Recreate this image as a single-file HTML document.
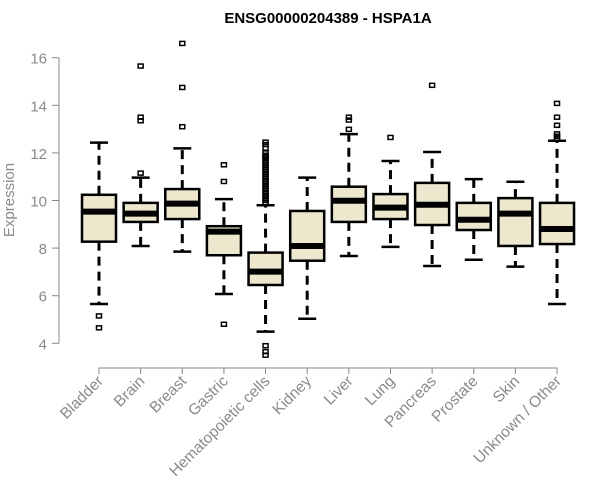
<!DOCTYPE html>
<html><head><meta charset="utf-8"><style>
body{margin:0;background:#fff}
svg{display:block;font-family:"Liberation Sans",Arial,sans-serif}
</style></head><body>
<svg id="chart" width="600" height="500">
<text x="328" y="23" text-anchor="middle" font-weight="bold" font-size="15">ENSG00000204389 - HSPA1A</text>
<text transform="translate(14,200) rotate(-90)" text-anchor="middle" font-size="15" fill="#8a8a8a">Expression</text>
<g id="yaxis"></g>
<g id="xaxis"></g>
<g id="boxes"></g>
</svg>
<script>
const categories=["Bladder","Brain","Breast","Gastric","Hematopoietic cells","Kidney","Liver","Lung","Pancreas","Prostate","Skin","Unknown / Other"];
const whiskerLow=[5.65,8.09,7.85,6.07,4.49,5.03,7.67,8.05,7.25,7.51,7.22,5.65];
const q1=[8.27,9.1,9.22,7.7,6.45,7.47,9.1,9.22,8.97,8.76,8.09,8.17];
const medians=[9.53,9.45,9.87,8.69,7.01,8.09,9.99,9.7,9.82,9.19,9.45,8.8];
const q3=[10.24,9.9,10.48,8.92,7.81,9.56,10.58,10.27,10.74,9.9,10.1,9.9];
const whiskerHigh=[12.43,10.96,12.19,10.06,9.8,10.96,12.79,11.66,12.04,10.9,10.79,12.51];
const outliers=[[5.15,4.65],[15.65,13.5,13.35,11.15],[16.6,14.75,13.1],[11.5,10.8,4.8],
[12.45,12.35,12.2,12.0,11.9,11.85,11.8,11.7,11.6,11.5,11.4,11.3,11.2,11.1,11.0,10.9,10.8,10.7,10.6,10.5,10.4,10.3,10.2,10.1,10.0,9.9,3.9,3.65,3.5],
[],[13.5,13.38,12.99],[12.65],[14.84],[],[],[14.08,13.5,13.16,12.8,12.7,12.6]];
const yTicks=[4,6,8,10,12,14,16];
const NS="http://www.w3.org/2000/svg";
const y=v=>343.3-(v-4)*23.8;
const x=i=>99+i*41.64;
const hw=17;
function mk(tag,attrs,parent){const e=document.createElementNS(NS,tag);for(const k in attrs)e.setAttribute(k,attrs[k]);parent.appendChild(e);return e;}
const ya=document.getElementById('yaxis'),xa=document.getElementById('xaxis'),bx=document.getElementById('boxes');
mk('line',{x1:59,x2:59,y1:y(4),y2:y(16),stroke:'#888','stroke-width':1},ya);
yTicks.forEach(t=>{
  mk('line',{x1:52,x2:59,y1:y(t),y2:y(t),stroke:'#888'},ya);
  const tx=mk('text',{x:47,y:y(t)+6,'text-anchor':'end','font-size':15,fill:'#8a8a8a'},ya);
  tx.textContent=t;
  
  
});
mk('line',{x1:x(0),x2:x(categories.length-1),y1:368,y2:368,stroke:'#888'},xa);
categories.forEach((c,i)=>{
  mk('line',{x1:x(i),x2:x(i),y1:368,y2:374,stroke:'#888'},xa);
  const tx=mk('text',{transform:`translate(${x(i)+5},382) rotate(-45)`,'text-anchor':'end','font-size':15.5,fill:'#8a8a8a'},xa);
  tx.textContent=c;
  
  
  const g=mk('g',{},bx);
  
  
  const cx=x(i);
  mk('line',{x1:cx,x2:cx,y1:y(q3[i]),y2:y(whiskerHigh[i]),stroke:'#000','stroke-width':3,'stroke-dasharray':'9,6'},g);
  mk('line',{x1:cx,x2:cx,y1:y(q1[i]),y2:y(whiskerLow[i]),stroke:'#000','stroke-width':3,'stroke-dasharray':'9,6'},g);
  mk('line',{x1:cx-9,x2:cx+9,y1:y(whiskerHigh[i]),y2:y(whiskerHigh[i]),stroke:'#000','stroke-width':2.5},g);
  mk('line',{x1:cx-9,x2:cx+9,y1:y(whiskerLow[i]),y2:y(whiskerLow[i]),stroke:'#000','stroke-width':2.5},g);
  mk('rect',{x:cx-hw,y:y(q3[i]),width:2*hw,height:y(q1[i])-y(q3[i]),fill:'#ede7cd',stroke:'#000','stroke-width':2.5},g);
  mk('line',{x1:cx-hw,x2:cx+hw,y1:y(medians[i]),y2:y(medians[i]),stroke:'#000','stroke-width':6},g);
  outliers[i].forEach(o=>{
    mk('rect',{x:cx-2.5,y:y(o)-2,width:5,height:4,fill:'none',stroke:'#000','stroke-width':1.5},g);
  });
});
</script>
</body></html>
